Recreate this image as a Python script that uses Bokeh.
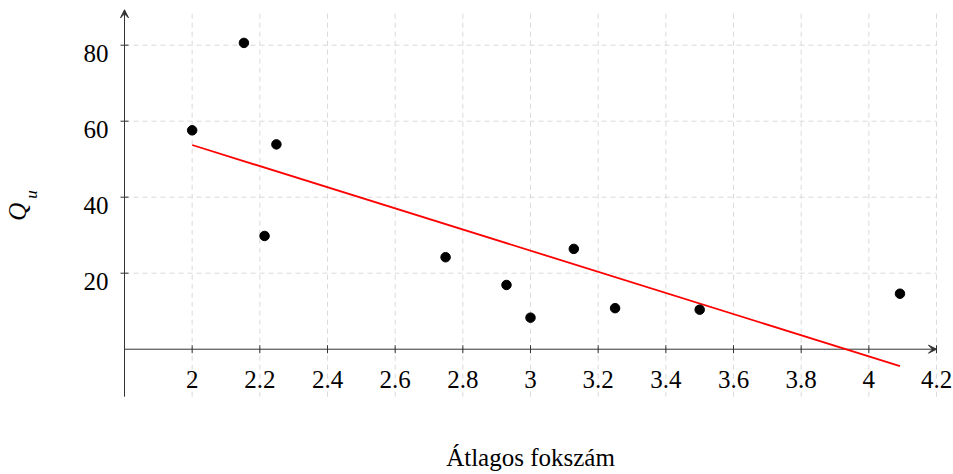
import numpy as np
from bokeh.plotting import figure
from bokeh.models import Range1d, Arrow, VeeHead, Label, ColumnDataSource
from bokeh.core.properties import value
from bokeh.embed import file_html
from bokeh.resources import INLINE

# ---- data ----
avg_degree = [2.0, 2.153, 2.214, 2.249, 2.749, 2.929, 3.0, 3.128, 3.25, 3.5, 4.092]
q_u = [57.6, 80.6, 29.8, 53.9, 24.2, 16.9, 8.3, 26.4, 10.8, 10.4, 14.6]
x_ticks = [2.0, 2.2, 2.4, 2.6, 2.8, 3.0, 3.2, 3.4, 3.6, 3.8, 4.0, 4.2]
x_tick_labels = ["2", "2.2", "2.4", "2.6", "2.8", "3", "3.2", "3.4", "3.6", "3.8", "4", "4.2"]
y_ticks = [20, 40, 60, 80]
y_tick_labels = ["20", "40", "60", "80"]
x_label = "Átlagos fokszám"
y_label_main = "Q"
y_label_sub = "u"

# axis limits (pgfplots style: axis lines in the middle)
X_MIN, X_MAX = 1.8, 4.2
Y_MIN, Y_MAX = -12.5, 89.3

FONT = "Liberation Serif"
AXIS_COLOR = "#333333"
GRID_COLOR = "#dadada"

# linear regression trend line
slope, intercept = np.polyfit(avg_degree, q_u, 1)
trend_x = [min(avg_degree), max(avg_degree)]
trend_y = [slope * v + intercept for v in trend_x]

# the drawing area covers the whole canvas; axes are drawn inside it
p = figure(width=953, height=474, output_backend="svg", toolbar_location=None,
           x_range=Range1d(1.4335, 4.2502), y_range=Range1d(-32.97, 91.76),
           x_axis_location=None, y_axis_location=None, min_border=0)
p.outline_line_color = None
p.grid.visible = False
p.background_fill_color = "white"
p.border_fill_color = "white"

# dashed grid
p.segment(x0=x_ticks, y0=[Y_MIN] * len(x_ticks), x1=x_ticks, y1=[Y_MAX] * len(x_ticks),
          line_color=GRID_COLOR, line_dash="5 4", line_width=1)
p.segment(x0=[X_MIN] * len(y_ticks), y0=y_ticks, x1=[X_MAX] * len(y_ticks), y1=y_ticks,
          line_color=GRID_COLOR, line_dash="5 4", line_width=1)

# axis lines
p.segment(x0=[X_MIN], y0=[0], x1=[X_MAX], y1=[0], line_color=AXIS_COLOR, line_width=1)
p.segment(x0=[X_MIN], y0=[Y_MIN], x1=[X_MIN], y1=[Y_MAX], line_color=AXIS_COLOR, line_width=1)
p.add_layout(Arrow(x_start=X_MAX - 0.05, y_start=0, x_end=X_MAX, y_end=0, line_alpha=0,
                   end=VeeHead(size=8, line_color=AXIS_COLOR, fill_color=AXIS_COLOR, line_width=1)))
p.add_layout(Arrow(x_start=X_MIN, y_start=Y_MAX - 4, x_end=X_MIN, y_end=Y_MAX, line_alpha=0,
                   end=VeeHead(size=8, line_color=AXIS_COLOR, fill_color=AXIS_COLOR, line_width=1)))

# tick marks (4 px each side of the axis)
tx = 4 / 3.8
ty = 4 / 338.33
p.segment(x0=x_ticks, y0=[-tx] * len(x_ticks), x1=x_ticks, y1=[tx] * len(x_ticks),
          line_color=AXIS_COLOR, line_width=1)
p.segment(x0=[X_MIN - ty] * len(y_ticks), y0=y_ticks, x1=[X_MIN + ty] * len(y_ticks), y1=y_ticks,
          line_color=AXIS_COLOR, line_width=1)

# tick labels
p.text(x=x_ticks, y=[0] * len(x_ticks), text=x_tick_labels, y_offset=30,
       text_align="center", text_baseline="alphabetic",
       text_font=value(FONT), text_font_size="25px", text_color="black")
p.text(x=[X_MIN] * len(y_ticks), y=y_ticks, text=y_tick_labels, x_offset=-16, y_offset=8,
       text_align="right", text_baseline="alphabetic",
       text_font=value(FONT), text_font_size="25px", text_color="black")

# trend line and points
p.line(trend_x, trend_y, line_color="red", line_width=1.8)
src = ColumnDataSource(dict(x=avg_degree, y=q_u))
p.scatter("x", "y", source=src, size=9.5, fill_color="black", line_color="black")

# axis titles
p.add_layout(Label(x=3.0, y=-28.6, text=x_label, text_font=FONT, text_font_size="25px",
                   text_align="center", text_baseline="middle", text_color="black"))
p.add_layout(Label(x=1.4840, y=36.2, text=y_label_main, text_font=FONT, text_font_style="italic",
                   text_font_size="25px", angle=np.pi / 2, text_align="center",
                   text_baseline="middle", text_color="black"))
p.add_layout(Label(x=1.5245, y=40.7, text=y_label_sub, text_font=FONT, text_font_style="italic",
                   text_font_size="17px", angle=np.pi / 2, text_align="center",
                   text_baseline="middle", text_color="black"))

open("out.html", "w").write(file_html(p, INLINE))
